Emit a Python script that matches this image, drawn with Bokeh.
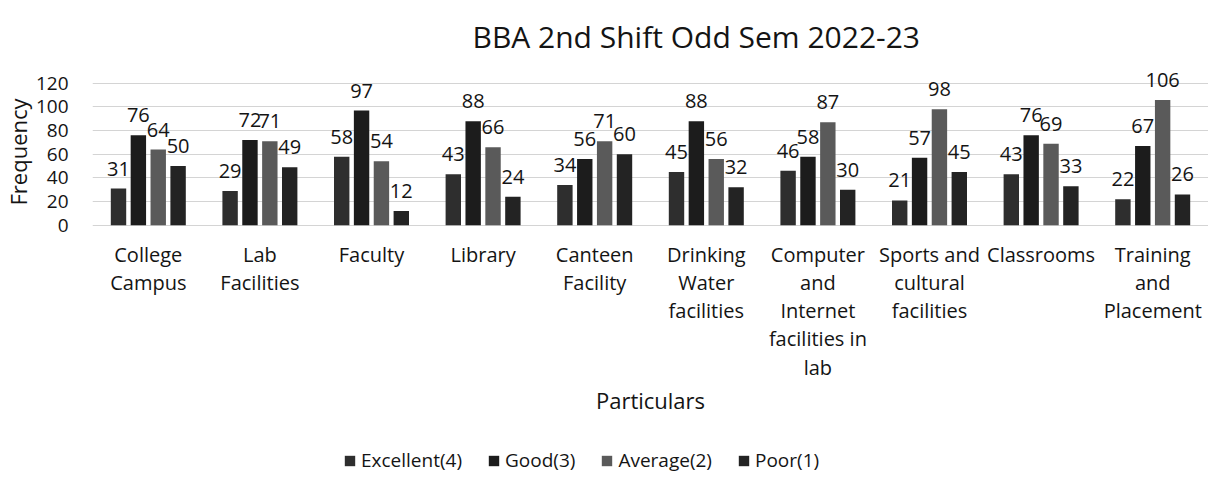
from bokeh.plotting import figure
from bokeh.models import (FactorRange, Range1d, Legend, LegendItem, ColumnDataSource,
                          FixedTicker, Label, Title)
from bokeh.transform import dodge
from bokeh.core.properties import value
from bokeh.embed import file_html
from bokeh.resources import INLINE

categories = ["College Campus", "Lab Facilities", "Faculty", "Library", "Canteen Facility",
              "Drinking Water facilities", "Computer and Internet facilities in lab",
              "Sports and cultural facilities", "Classrooms", "Training and Placement"]
category_labels = ["College\nCampus", "Lab\nFacilities", "Faculty", "Library", "Canteen\nFacility",
                   "Drinking\nWater\nfacilities", "Computer\nand\nInternet\nfacilities in\nlab",
                   "Sports and\ncultural\nfacilities", "Classrooms", "Training\nand\nPlacement"]
series_names = ["Excellent(4)", "Good(3)", "Average(2)", "Poor(1)"]
excellent = [31, 29, 58, 43, 34, 45, 46, 21, 43, 22]
good = [76, 72, 97, 88, 56, 88, 58, 57, 76, 67]
average = [64, 71, 54, 66, 71, 56, 87, 98, 69, 106]
poor = [50, 49, 12, 24, 60, 32, 30, 45, 33, 26]
y_ticks = [0, 20, 40, 60, 80, 100, 120]

FONT = "Open Sans"
TXT = "#141414"
colors = ["#2e2e2e", "#1c1c1c", "#5a5a5a", "#232323"]
offsets = [-0.267, -0.089, 0.089, 0.267]
series = [excellent, good, average, poor]

# the frame reaches down below the value axis so that the multi-line category
# labels, the axis title and the legend can be drawn inside it
p = figure(x_range=FactorRange(*categories), y_range=Range1d(-210, 141),
           width=1208, height=473,
           min_border_left=84, min_border_right=0, min_border_top=58, min_border_bottom=0,
           output_backend="svg", toolbar_location=None)

p.title.text = "BBA 2nd Shift Odd Sem 2022-23"
p.title.align = "left"
p.title.text_font = FONT
p.title.text_font_size = "30px"
p.title.text_font_style = "normal"
p.title.text_color = TXT
p.title.offset = 380
p.title.standoff = 3

p.outline_line_color = None
p.xgrid.grid_line_color = None
p.ygrid.grid_line_color = "#d4d4d4"
p.ygrid.ticker = FixedTicker(ticks=y_ticks)
p.yaxis.ticker = FixedTicker(ticks=y_ticks)
p.yaxis.axis_line_color = None
p.yaxis.major_tick_line_color = None
p.yaxis.minor_tick_line_color = None
p.yaxis.major_label_text_font = FONT
p.yaxis.major_label_text_font_size = "19px"
p.yaxis.major_label_text_color = TXT
p.yaxis.major_label_standoff = 18
p.xaxis.visible = False

ytitle = Title(text="Frequency", align="left", offset=268, standoff=0,
               text_font=FONT, text_font_size="22px", text_font_style="normal",
               text_color=TXT)
p.add_layout(ytitle, "left")

p.text(x=categories, y=[0] * len(categories), text=category_labels, y_offset=16,
       text_align="center", text_baseline="top", text_line_height=1.04,
       text_font=value(FONT), text_font_size="20px", text_color=TXT)

p.add_layout(Label(x=5, y=-148, text="Particulars", text_align="center",
                   text_baseline="middle", text_font=FONT, text_font_size="22px",
                   text_color=TXT))

items = []
for name, vals, col, off in zip(series_names, series, colors, offsets):
    src = ColumnDataSource(dict(cat=categories, val=vals, lab=[str(v) for v in vals]))
    r = p.vbar(x=dodge("cat", off, range=p.x_range), top="val", width=0.138, source=src,
               fill_color=col, line_color=None)
    p.text(x=dodge("cat", off, range=p.x_range), y="val", text="lab", source=src,
           text_align="center", text_baseline="bottom", y_offset=-13,
           text_font=value(FONT), text_font_size="20px", text_color=TXT)
    items.append(LegendItem(label=name, renderers=[r]))

legend = Legend(items=items, orientation="horizontal", location=(251, 0),
                label_text_font=FONT, label_text_font_size="19px", label_text_color=TXT,
                glyph_width=13, glyph_height=13, spacing=25, border_line_color=None,
                background_fill_alpha=0, margin=0, padding=0, label_standoff=5)
p.add_layout(legend, "center")

open("out.html", "w").write(file_html(p, INLINE))
